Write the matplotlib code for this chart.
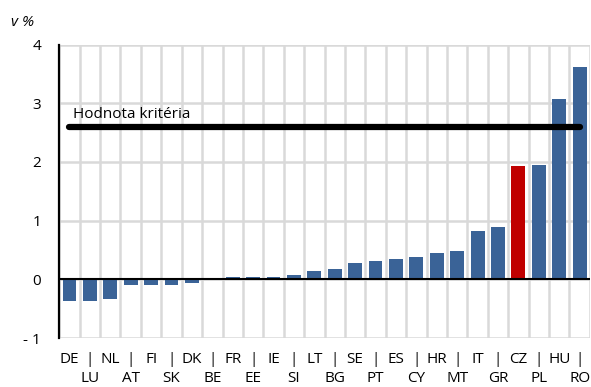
import matplotlib
matplotlib.use("Agg")
import matplotlib.pyplot as plt
import numpy as np

countries = ["DE", "LU", "NL", "AT", "FI", "SK", "DK", "BE", "FR", "EE", "IE", "SI", "LT",
             "BG", "SE", "PT", "ES", "CY", "HR", "MT", "IT", "GR", "CZ", "PL", "HU", "RO"]
values = [-0.37, -0.37, -0.33, -0.10, -0.10, -0.10, -0.06, 0.0, 0.04, 0.04, 0.04, 0.07, 0.14,
          0.18, 0.28, 0.31, 0.35, 0.38, 0.45, 0.49, 0.83, 0.90, 1.93, 1.95, 3.07, 3.62]
highlight = "CZ"
criterion = 2.6
criterion_label = "Hodnota kritéria"
y_ticks = [-1, 0, 1, 2, 3, 4]
y_tick_labels = ["- 1", "0", "1", "2", "3", "4"]
unit_label = "v %"

BLUE = "#3a6397"
RED = "#c00000"
GRID = "#d9d9d9"

plt.rcParams["font.family"] = ["Open Sans", "DejaVu Sans"]

fig = plt.figure(figsize=(5.91, 3.87), dpi=100)
ax = fig.add_axes([0.1003, 0.1266, 0.8977, 0.758])

x = np.arange(len(countries))
colors = [RED if c == highlight else BLUE for c in countries]
ax.bar(x, values, width=0.68, color=colors, zorder=3)

ax.set_xlim(-0.5, len(countries) - 0.5)
ax.set_ylim(-1, 4)

# grid: horizontal at each integer, vertical between categories
for yv in y_ticks:
    ax.axhline(yv, color=GRID, lw=1.8, zorder=1)
for xb in np.arange(-0.5, len(countries), 1.0):
    ax.axvline(xb, color=GRID, lw=1.8, zorder=1)
ax.axhline(0, color="black", lw=1.5, zorder=4)

for s in ["top", "right", "bottom"]:
    ax.spines[s].set_visible(False)
ax.spines["left"].set_color("black")
ax.spines["left"].set_linewidth(1.6)
ax.spines["left"].set_zorder(5)

# criterion line
ax.plot([x[0], x[-1]], [criterion, criterion], color="black", lw=4.5,
        solid_capstyle="round", zorder=6)
ax.text(x[0] + 0.15, criterion + 0.08, criterion_label, fontsize=11,
        ha="left", va="bottom", zorder=7)

ax.set_yticks(y_ticks)
ax.set_yticklabels(y_tick_labels, fontsize=11)
labels = [c if i % 2 == 0 else "|\n" + c for i, c in enumerate(countries)]
ax.set_xticks(x)
ax.set_xticklabels(labels, fontsize=11, linespacing=1.4)
ax.tick_params(axis="both", length=0)
ax.tick_params(axis="x", pad=10)
ax.tick_params(axis="y", pad=13)

fig.text(0.018, 0.943, unit_label, fontsize=11, style="italic", ha="left", va="center")

fig.savefig("out.png", dpi=100)
